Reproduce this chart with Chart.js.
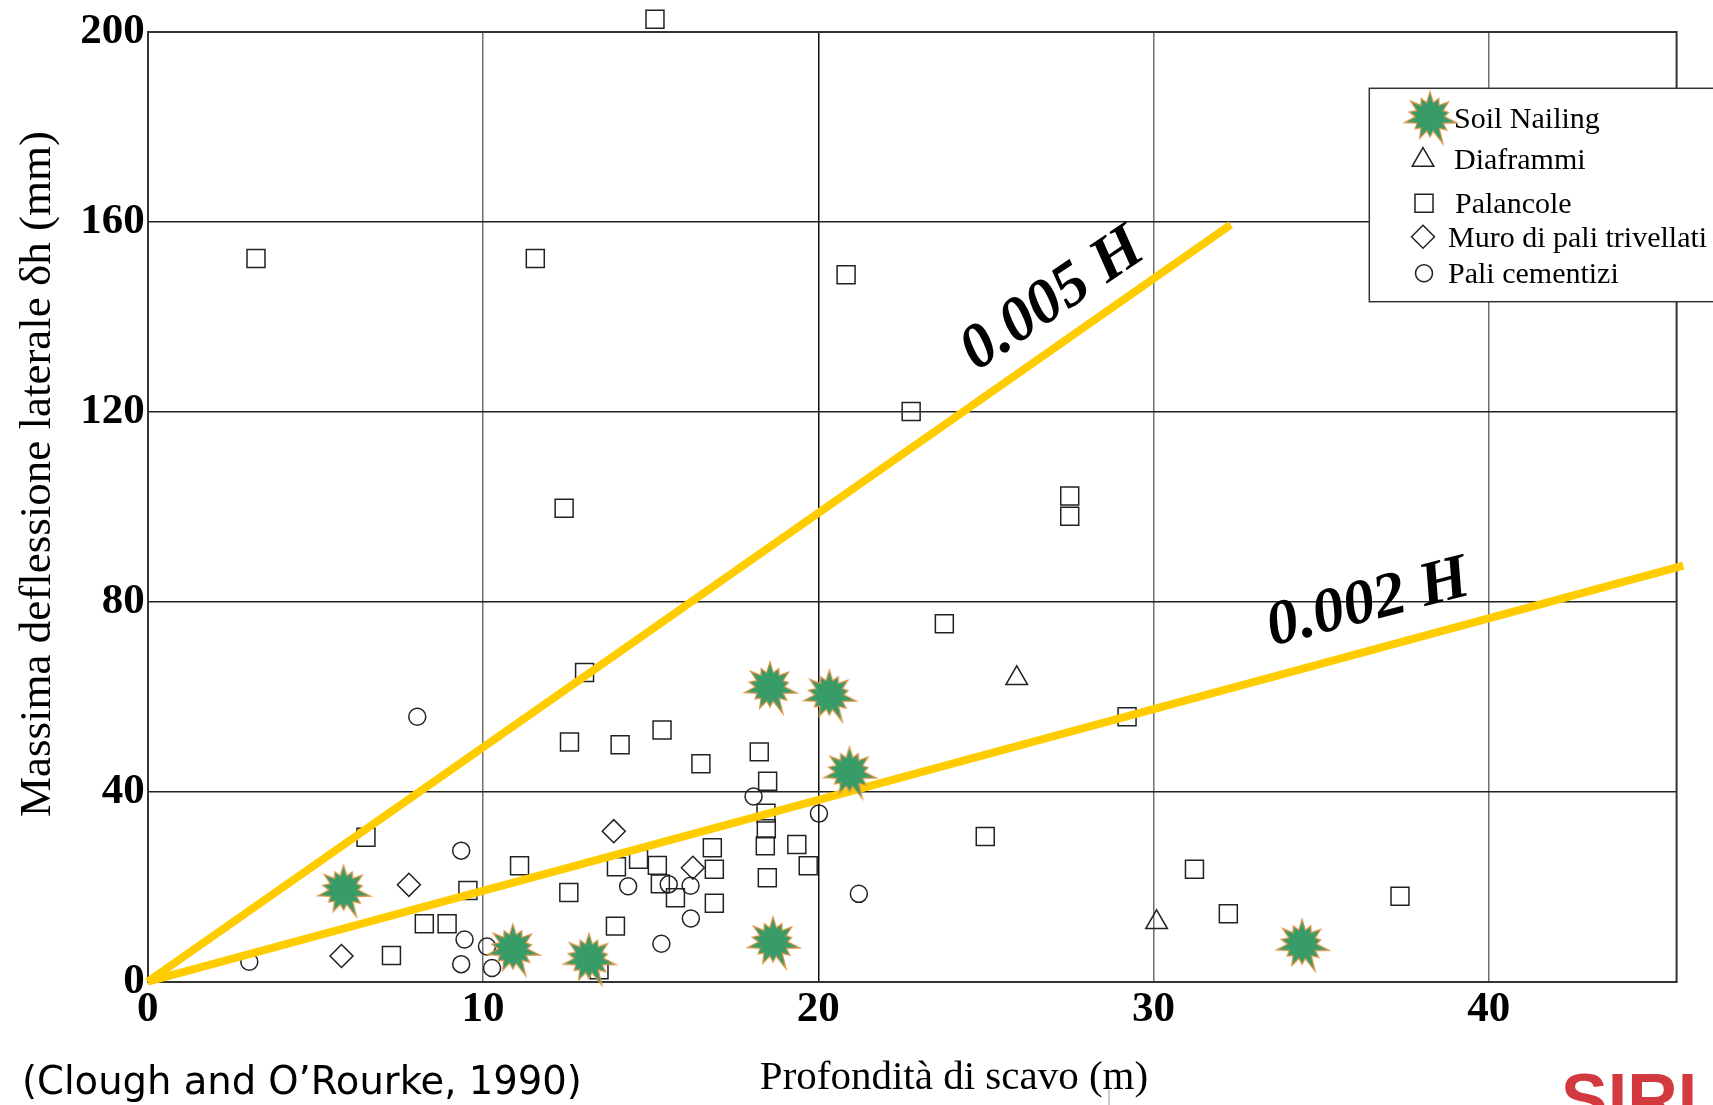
<!DOCTYPE html>
<html>
<head>
<meta charset="utf-8">
<script src="https://cdn.jsdelivr.net/npm/chart.js@4.4.0/dist/chart.umd.min.js"></script>
<style>
  html, body { margin: 0; padding: 0; background: #fff; }
  #wrap { width: 1713px; height: 1105px; }
</style>
</head>
<body>
<div id="wrap"><canvas id="grafico" width="1713" height="1105"></canvas></div>
<script>
// Dati (Clough and O'Rourke, 1990)
// x = profondità di scavo (m), y = massima deflessione laterale (mm)
const soilNailing = [
  {x: 5.84, y: 19.3}, {x: 10.89, y: 6.9}, {x: 13.16, y: 4.9}, {x: 18.56, y: 62.1},
  {x: 20.33, y: 60.4}, {x: 20.93, y: 44.2}, {x: 18.65, y: 8.4}, {x: 34.43, y: 7.9}
];
const diaframmi = [ {x: 25.92, y: 63.9}, {x: 30.09, y: 12.5} ];
const palancole = [
  {x: 15.13, y: 202.7}, {x: 3.23, y: 152.3}, {x: 11.56, y: 152.3}, {x: 20.83, y: 148.9},
  {x: 22.77, y: 120.1}, {x: 12.42, y: 99.7}, {x: 27.5, y: 102.3}, {x: 27.5, y: 98.0},
  {x: 23.76, y: 75.4}, {x: 29.21, y: 55.8}, {x: 13.03, y: 65.1}, {x: 12.58, y: 50.5},
  {x: 14.09, y: 49.9}, {x: 15.34, y: 53.0}, {x: 16.5, y: 45.9}, {x: 18.24, y: 48.4},
  {x: 18.49, y: 42.2}, {x: 18.44, y: 35.5}, {x: 18.45, y: 32.2}, {x: 18.42, y: 28.6},
  {x: 19.36, y: 28.9}, {x: 19.7, y: 24.4}, {x: 18.48, y: 21.9}, {x: 24.98, y: 30.6},
  {x: 16.84, y: 28.2}, {x: 16.9, y: 23.7}, {x: 16.9, y: 16.5}, {x: 15.2, y: 24.5},
  {x: 14.64, y: 25.8}, {x: 15.29, y: 20.6}, {x: 15.74, y: 17.7}, {x: 13.98, y: 24.2},
  {x: 13.95, y: 11.7}, {x: 12.56, y: 18.8}, {x: 11.09, y: 24.4}, {x: 9.55, y: 19.2},
  {x: 8.25, y: 12.2}, {x: 8.93, y: 12.2}, {x: 7.27, y: 5.5}, {x: 13.46, y: 2.5},
  {x: 6.51, y: 30.4}, {x: 31.22, y: 23.7}, {x: 32.23, y: 14.3}, {x: 37.35, y: 18.0}
];
const muroPali = [ {x: 13.9, y: 31.7}, {x: 7.79, y: 20.4}, {x: 5.78, y: 5.4}, {x: 16.26, y: 24.0} ];
const paliCementizi = [
  {x: 8.04, y: 55.8}, {x: 9.35, y: 27.6}, {x: 14.33, y: 20.1}, {x: 9.45, y: 8.9},
  {x: 10.12, y: 7.4}, {x: 9.35, y: 3.7}, {x: 10.27, y: 2.9}, {x: 3.03, y: 4.2},
  {x: 18.07, y: 39.0}, {x: 20.02, y: 35.4}, {x: 21.21, y: 18.5}, {x: 16.19, y: 20.2},
  {x: 16.2, y: 13.3}, {x: 15.54, y: 20.5}, {x: 15.32, y: 8.0}
];
// rette limite
const linea005 = [ {x: 0, y: 0}, {x: 32.3, y: 159.4} ];
const linea002 = [ {x: 0, y: 0}, {x: 45.8, y: 87.6} ];

const nomiSerie = ['Soil Nailing', 'Diaframmi', 'Palancole', 'Muro di pali trivellati', 'Pali cementizi'];
const etichetteRette = ['0.005 H', '0.002 H'];
const titoloX = 'Profondità di scavo (m)';
const titoloY = 'Massima deflessione laterale δh (mm)';
const citazione = '(Clough and O\u2019Rourke, 1990)';

const SERIF = '"Liberation Serif", "Times New Roman", serif';
const GIALLO = '#FFCC00';
const NERO = '#222';

// stella "esplosione" per Soil Nailing
function creaStella() {
  const c = document.createElement('canvas');
  c.width = 58; c.height = 58;
  const g = c.getContext('2d');
  const punte = [23, 19, 22, 18, 25, 20, 27, 19, 22, 18, 24, 20, 23, 19];
  const n = punte.length;
  g.beginPath();
  for (let i = 0; i < n; i++) {
    const a1 = -Math.PI / 2 + i * 2 * Math.PI / n;
    const a2 = a1 + Math.PI / n;
    g.lineTo(29 + punte[i] * Math.cos(a1), 29 + punte[i] * Math.sin(a1));
    g.lineTo(29 + 13.5 * Math.cos(a2), 29 + 13.5 * Math.sin(a2));
  }
  g.closePath();
  g.strokeStyle = '#de9446';
  g.lineWidth = 2.4;
  g.lineJoin = 'miter';
  g.stroke();
  g.fillStyle = '#379c68';
  g.fill();
  return c;
}
const stella = creaStella();

function marcatore(ctx, tipo, x, y) {
  ctx.save();
  ctx.strokeStyle = NERO;
  ctx.lineWidth = 1.5;
  ctx.beginPath();
  if (tipo === 'star') {
    ctx.drawImage(stella, x - stella.width / 2, y - stella.height / 2);
    ctx.restore();
    return;
  } else if (tipo === 'triangle') {
    const r = 12.5;
    ctx.moveTo(x, y - r);
    ctx.lineTo(x + r * Math.sin(2 * Math.PI / 3), y + r / 2);
    ctx.lineTo(x - r * Math.sin(2 * Math.PI / 3), y + r / 2);
    ctx.closePath();
  } else if (tipo === 'rect') {
    ctx.rect(x - 9, y - 9, 18, 18);
  } else if (tipo === 'rectRot') {
    ctx.moveTo(x - 11.5, y); ctx.lineTo(x, y - 11.5);
    ctx.lineTo(x + 11.5, y); ctx.lineTo(x, y + 11.5);
    ctx.closePath();
  } else {
    ctx.arc(x, y, 8.5, 0, Math.PI * 2);
  }
  ctx.stroke();
  ctx.restore();
}

const decorazioni = {
  id: 'decorazioni',
  beforeDraw(chart) {
    const ctx = chart.ctx;
    ctx.save();
    ctx.fillStyle = '#fff';
    ctx.fillRect(0, 0, chart.width, chart.height);
    ctx.restore();
  },
  beforeDatasetsDraw(chart) {
    const ctx = chart.ctx, a = chart.chartArea;
    ctx.save();
    ctx.strokeStyle = '#333';
    ctx.lineWidth = 2;
    ctx.beginPath();
    ctx.moveTo(a.left, a.top); ctx.lineTo(a.right, a.top); ctx.lineTo(a.right, a.bottom);
    ctx.stroke();
    ctx.restore();
  },
  afterDraw(chart) {
    const ctx = chart.ctx, sx = chart.scales.x, sy = chart.scales.y;
    ctx.save();

    // etichette delle rette
    ctx.fillStyle = '#000';
    ctx.font = 'italic bold 63px ' + SERIF;
    ctx.textAlign = 'center';
    ctx.textBaseline = 'middle';
    ctx.save();
    ctx.translate(sx.getPixelForValue(27.0), sy.getPixelForValue(143.5));
    ctx.rotate(-34 * Math.PI / 180);
    ctx.fillText(etichetteRette[0], 0, 0);
    ctx.restore();
    ctx.save();
    ctx.translate(sx.getPixelForValue(36.4), sy.getPixelForValue(79.5));
    ctx.rotate(-14.5 * Math.PI / 180);
    ctx.fillText(etichetteRette[1], 0, 0);
    ctx.restore();

    // titoli degli assi
    ctx.font = '41px ' + SERIF;
    ctx.fillText(titoloX, 954, 1078);
    ctx.save();
    ctx.translate(38, 474);
    ctx.rotate(-Math.PI / 2);
    ctx.font = '45px ' + SERIF;
    ctx.fillText(titoloY, 0, 0);
    ctx.restore();

    // citazione
    ctx.textAlign = 'left';
    ctx.font = '38.5px "DejaVu Sans", sans-serif';
    ctx.fillText(citazione, 22, 1084);

    // logo tagliato in basso a destra
    ctx.fillStyle = '#d33a40';
    ctx.font = 'bold 70px "Liberation Sans", Arial, sans-serif';
    ctx.textBaseline = 'alphabetic';
    ctx.fillText('SIRI', 1561, 1123);
    ctx.strokeStyle = '#bbb';
    ctx.lineWidth = 1.5;
    ctx.beginPath(); ctx.moveTo(1109, 1090); ctx.lineTo(1109, 1105); ctx.stroke();

    // legenda
    ctx.fillStyle = '#fff';
    ctx.fillRect(1369, 88, 360, 214);
    ctx.strokeStyle = '#333';
    ctx.lineWidth = 1.5;
    ctx.strokeRect(1369.3, 88.3, 360, 213.4);
    const tipi = ['star', 'triangle', 'rect', 'rectRot', 'circle'];
    const mx = [1430, 1423, 1424, 1423, 1424];
    const my = [116.7, 160, 203.3, 236.7, 273.3];
    const tx = [1454, 1454, 1455, 1448, 1448];
    const ty = [128.3, 169.3, 212.7, 246.7, 283.3];
    ctx.font = '30px ' + SERIF;
    ctx.fillStyle = '#000';
    ctx.textBaseline = 'alphabetic';
    for (let i = 0; i < nomiSerie.length; i++) {
      if (i !== 0) marcatore(ctx, tipi[i], mx[i], my[i]);
      ctx.fillText(nomiSerie[i], tx[i], ty[i]);
      if (i === 0) marcatore(ctx, tipi[i], mx[i], my[i]);
    }
    ctx.restore();
  }
};

const puntiVuoti = {
  type: 'scatter',
  backgroundColor: 'rgba(0,0,0,0)',
  borderColor: NERO,
  borderWidth: 1.5,
  pointBorderWidth: 1.5,
  clip: false
};

new Chart(document.getElementById('grafico'), {
  type: 'scatter',
  data: {
    datasets: [
      { label: nomiSerie[0], data: soilNailing, pointStyle: stella, pointRadius: 25, order: 0, clip: false },
      { label: etichetteRette[0], type: 'line', data: linea005, borderColor: GIALLO, borderWidth: 8,
        pointRadius: 0, fill: false, order: 1, clip: false, borderCapStyle: 'butt' },
      { label: etichetteRette[1], type: 'line', data: linea002, borderColor: GIALLO, borderWidth: 8,
        pointRadius: 0, fill: false, order: 1, clip: false, borderCapStyle: 'butt' },
      Object.assign({ label: nomiSerie[1], data: diaframmi, pointStyle: 'triangle', pointRadius: 12.5, order: 2 }, puntiVuoti),
      Object.assign({ label: nomiSerie[2], data: palancole, pointStyle: 'rect', pointRadius: 12.7, order: 2 }, puntiVuoti),
      Object.assign({ label: nomiSerie[3], data: muroPali, pointStyle: 'rectRot', pointRadius: 11.5, order: 2 }, puntiVuoti),
      Object.assign({ label: nomiSerie[4], data: paliCementizi, pointStyle: 'circle', pointRadius: 8.5, order: 2 }, puntiVuoti)
    ]
  },
  options: {
    responsive: false,
    animation: false,
    devicePixelRatio: 1,
    layout: { padding: { top: 32, right: 36.4, left: 0, bottom: 0 } },
    plugins: { legend: { display: false }, tooltip: { enabled: false } },
    scales: {
      x: {
        type: 'linear', min: 0, max: 45.6,
        afterFit: (s) => { s.height = 123.3; },
        ticks: { stepSize: 10, includeBounds: false, padding: 5, color: '#000',
                 font: { family: SERIF, size: 43, weight: 'bold', lineHeight: 1.1 } },
        grid: { drawTicks: false, lineWidth: 1.5,
                color: (c) => (c.tick && c.tick.value === 20) ? '#111' : '#707070' },
        border: { display: true, color: '#333', width: 2 }
      },
      y: {
        min: 0, max: 200,
        afterFit: (s) => { s.width = 147.7; },
        ticks: { stepSize: 40, padding: 3, color: '#000',
                 font: { family: SERIF, size: 43, weight: 'bold' } },
        grid: { drawTicks: false, lineWidth: 1.5, color: '#222' },
        border: { display: true, color: '#333', width: 2 }
      }
    }
  },
  plugins: [decorazioni]
});
</script>
</body>
</html>
